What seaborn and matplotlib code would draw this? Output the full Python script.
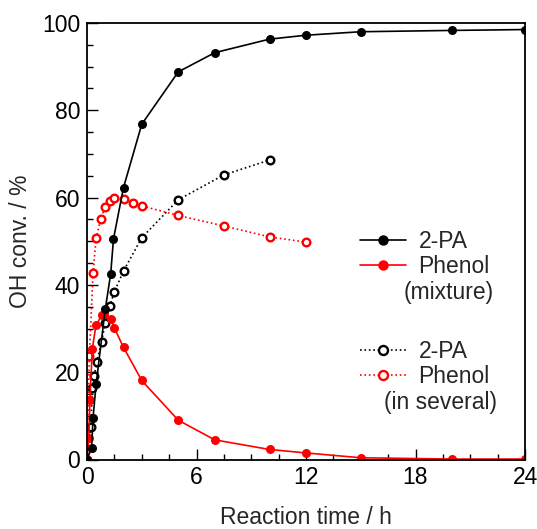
import matplotlib
matplotlib.use("Agg")
import matplotlib.pyplot as plt
import seaborn as sns
from matplotlib.lines import Line2D

# 2-PA / phenol conversion in the mixture (filled symbols)
t_pa_mix = [0, 0.25, 0.33, 0.5, 1.0, 1.3, 1.45, 2, 3, 5, 7, 10, 12, 15, 20, 24]
y_pa_mix = [0, 2.6, 9.5, 17.3, 34.4, 42.6, 50.5, 62.3, 76.8, 88.8, 93.2, 96.3, 97.2, 98.0, 98.3, 98.5]

t_ph_mix = [0, 0.1, 0.16, 0.29, 0.49, 0.8, 0.95, 1.31, 1.49, 2, 3, 5, 7, 10, 12, 15, 20, 24]
y_ph_mix = [0, 5.0, 13.7, 25.4, 30.7, 33.0, 33.3, 32.3, 30.2, 25.7, 18.1, 9.0, 4.5, 2.3, 1.5, 0.4, 0.1, 0.1]

# separate runs (open symbols)
t_pa_sep = [0, 0.2, 0.3, 0.4, 0.53, 0.8, 1.0, 1.25, 1.5, 2, 3, 5, 7.5, 10]
y_pa_sep = [0, 7.4, 16.3, 19.2, 22.3, 27.0, 31.3, 35.2, 38.4, 43.2, 50.8, 59.5, 65.2, 68.6]

t_ph_sep = [0, 0.13, 0.33, 0.5, 0.75, 1.0, 1.25, 1.5, 2.0, 2.5, 3, 5, 7.5, 10, 12]
y_ph_sep = [0, 23.6, 42.8, 50.7, 55.1, 57.9, 59.2, 59.8, 59.6, 58.8, 58.1, 55.9, 53.5, 51.0, 49.8]

sns.set_style("ticks")
plt.rcParams["font.family"] = ["Liberation Sans", "DejaVu Sans"]
FS = 16.5

fig = plt.figure(figsize=(5.37, 5.29), dpi=100)
ax = fig.add_axes([87 / 537, 1 - 459.5 / 529, (525 - 87) / 537, (459.5 - 23) / 529])

filled = dict(marker="o", markersize=6.5, linewidth=1.2, markeredgewidth=0)
opened = dict(marker="o", markersize=5.5, linewidth=1.2, markerfacecolor="white",
              markeredgewidth=1.7, linestyle=":")

sns.lineplot(x=t_pa_sep, y=y_pa_sep, ax=ax, color="black", markeredgecolor="black",
             sort=False, estimator=None, **opened)
sns.lineplot(x=t_ph_sep, y=y_ph_sep, ax=ax, color="red", markeredgecolor="red",
             sort=False, estimator=None, **opened)
sns.lineplot(x=t_ph_mix, y=y_ph_mix, ax=ax, color="red", sort=False, estimator=None, **filled)
sns.lineplot(x=t_pa_mix, y=y_pa_mix, ax=ax, color="black", sort=False, estimator=None, **filled)
for ln in ax.lines[:2]:
    ln.set_linestyle(":")

ax.set_xlim(0, 24)
ax.set_ylim(0, 100)
ax.set_xticks([0, 6, 12, 18, 24])
ax.set_xticks([1.5 * i for i in range(17)], minor=True)
ax.set_yticks([0, 20, 40, 60, 80, 100])
ax.set_yticks(range(0, 101, 5), minor=True)
ax.tick_params(which="both", direction="in", top=False, right=False, width=1, colors="black")
ax.tick_params(which="major", length=8, labelsize=FS)
ax.tick_params(which="minor", length=4)
ax.tick_params(axis="x", which="major", pad=5)
ax.tick_params(axis="y", which="major", pad=5)
for s in ax.spines.values():
    s.set_linewidth(1.3)
    s.set_color("black")

ax.set_xlabel("Reaction time / h", fontsize=FS, labelpad=12)
ax.set_ylabel("OH conv. / %", fontsize=FS, labelpad=7)

h_mix = [Line2D([], [], color="black", **dict(filled, markersize=7.5)),
         Line2D([], [], color="red", **dict(filled, markersize=7.5))]
h_sep = [Line2D([], [], color="black", markeredgecolor="black", **dict(opened, markersize=6.5)),
         Line2D([], [], color="red", markeredgecolor="red", **dict(opened, markersize=6.5))]
common = dict(loc="upper left", frameon=False, fontsize=FS, handlelength=2.0,
              handletextpad=0.55, labelspacing=0.08, borderpad=0, borderaxespad=0,
              bbox_transform=fig.transFigure)
leg1 = ax.legend(h_mix, ["2-PA", "Phenol"], bbox_to_anchor=(360 / 537, 1 - 230 / 529), **common)
ax.add_artist(leg1)
ax.legend(h_sep, ["2-PA", "Phenol"], bbox_to_anchor=(360 / 537, 1 - 340 / 529), **common)
fig.text(494 / 537, 1 - 293 / 529, "(mixture)", ha="right", va="center", fontsize=FS)
fig.text(497 / 537, 1 - 402 / 529, "(in several)", ha="right", va="center", fontsize=FS)

fig.savefig("out.png", dpi=100)
